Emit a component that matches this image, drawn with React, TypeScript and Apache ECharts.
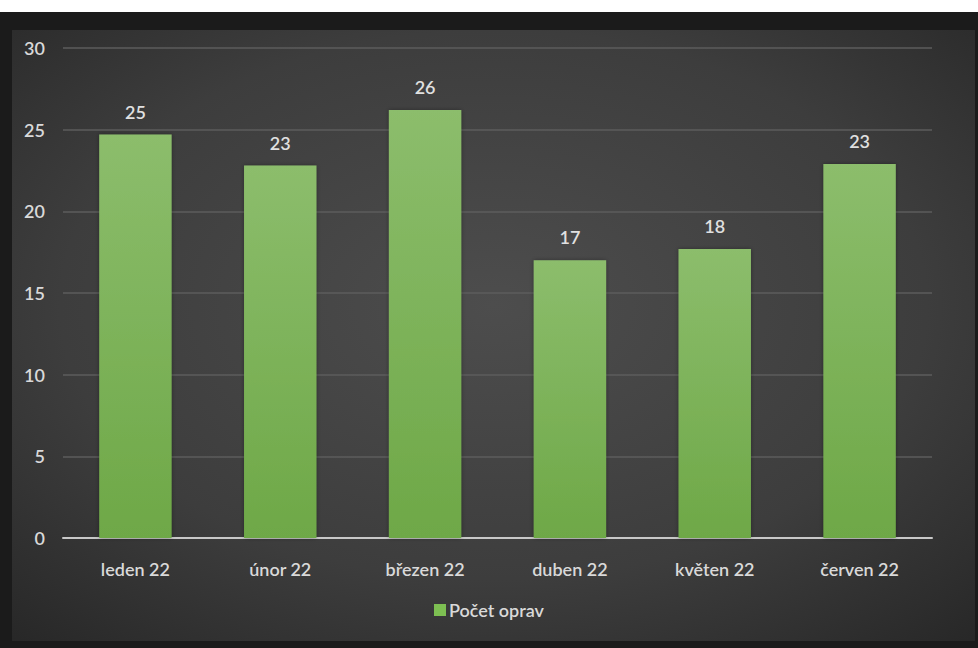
import React, { useEffect, useRef } from "react";
import * as echarts from "echarts";

const categories = ["leden 22", "únor 22", "březen 22", "duben 22", "květen 22", "červen 22"];
const repairCounts = [24.7, 22.8, 26.2, 17.0, 17.7, 22.9];
const seriesName = "Počet oprav";
const yTicks = { min: 0, max: 30, interval: 5 };

export default function App() {
  const ref = useRef<HTMLDivElement>(null);
  useEffect(() => {
    if (!ref.current) return;
    const chart = echarts.init(ref.current, null, { renderer: "svg" });
    const font = "Lato, 'Open Sans', sans-serif";
    chart.setOption({
      animation: false,
      backgroundColor: "#ffffff",
      textStyle: { fontFamily: font },
      graphic: [
        { type: "rect", z: -10, silent: true, shape: { x: 0, y: 12, width: 978, height: 636 }, style: { fill: "#1b1b1b" } },
        {
          type: "rect",
          z: -9,
          silent: true,
          shape: { x: 12, y: 30, width: 963, height: 611 },
          style: {
            fill: new echarts.graphic.RadialGradient(0.5, 0.45, 0.75, [
              { offset: 0, color: "#4d4d4d" },
              { offset: 0.6, color: "#3d3d3d" },
              { offset: 1, color: "#272727" },
            ]),
          },
        },
      ],
      grid: { left: 63, right: 46, top: 48, bottom: 110, containLabel: false },
      legend: {
        show: true,
        bottom: 24,
        left: "center",
        itemWidth: 12,
        itemHeight: 12,
        itemGap: 6,
        icon: "rect",
        data: [{ name: seriesName, itemStyle: { color: "#7dbf52" } }],
        textStyle: { color: "#d9d9d9", fontSize: 18, fontWeight: 600, fontFamily: font, padding: [0, 0, 0, -2] },
      },
      xAxis: {
        type: "category",
        data: categories,
        axisLine: { show: true, lineStyle: { color: "#c8c8c8", width: 2 } },
        axisTick: { show: false },
        axisLabel: { color: "#d9d9d9", fontSize: 18, fontWeight: 600, margin: 22, fontFamily: font },
        splitLine: { show: false },
      },
      yAxis: {
        type: "value",
        min: yTicks.min,
        max: yTicks.max,
        interval: yTicks.interval,
        axisLine: { show: false },
        axisTick: { show: false },
        axisLabel: { color: "#d9d9d9", fontSize: 18, fontWeight: 600, margin: 18, fontFamily: font },
        splitLine: { show: true, lineStyle: { color: "#5c5c5c", width: 1.5 } },
      },
      series: [
        {
          name: seriesName,
          type: "bar",
          data: repairCounts,
          barWidth: "50%",
          itemStyle: {
            color: new echarts.graphic.LinearGradient(0, 0, 0, 1, [
              { offset: 0, color: "#8cbd6c" },
              { offset: 1, color: "#6ea847" },
            ]),
            shadowColor: "rgba(0,0,0,0.35)",
            shadowBlur: 4,
          },
          label: {
            show: true,
            position: "top",
            distance: 14,
            color: "#e0e0e0",
            fontSize: 18,
            fontWeight: 600,
            fontFamily: font,
            formatter: (p: any) => String(Math.round(p.value)),
          },
        },
      ],
    });
    return () => chart.dispose();
  }, []);
  return <div ref={ref} style={{ position: "absolute", left: 0, top: 0, width: 978, height: 648, background: "#ffffff" }} />;
}
